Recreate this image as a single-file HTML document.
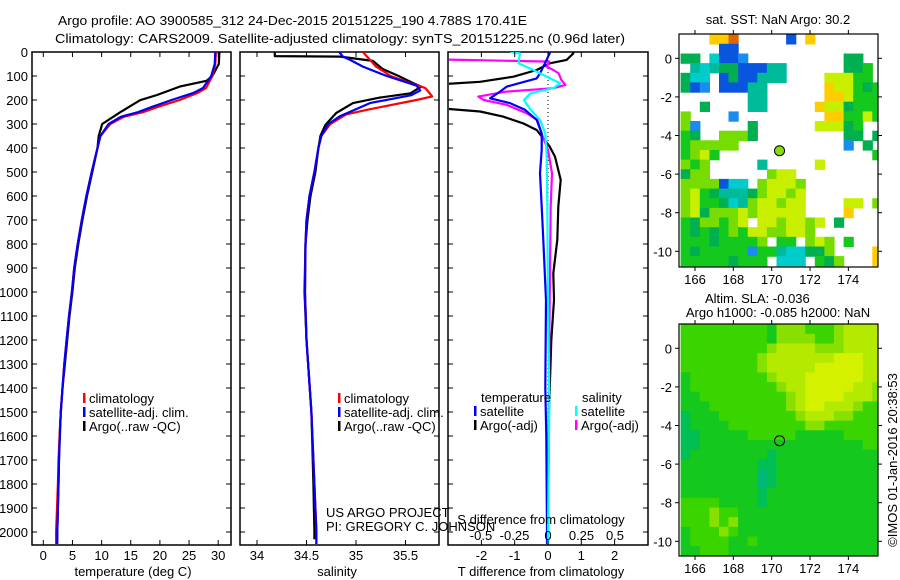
<!DOCTYPE html>
<html><head><meta charset="utf-8"><style>
html,body{margin:0;padding:0;background:#fff;}
svg{display:block;font-family:"Liberation Sans",sans-serif;}
text{font-size:13px;fill:#000;}
</style></head><body>
<svg id="fig" width="900" height="580" viewBox="0 0 900 580" xmlns="http://www.w3.org/2000/svg">
<text x="58" y="25" textLength="469" lengthAdjust="spacingAndGlyphs">Argo profile: AO 3900585_312 24-Dec-2015 20151225_190 4.788S 170.41E</text>
<text x="55" y="43" textLength="570" lengthAdjust="spacingAndGlyphs">Climatology: CARS2009. Satellite-adjusted climatology: synTS_20151225.nc (0.96d later)</text>
<g id="layer"></g>
</svg>
<script>
// ---------- profile data ----------
const tempClimDepth = [0,50,100,150,170,200,230,250,270,300,350,400,500,600,700,800,900,1000,1100,1200,1300,1400,1500,1600,1700,1800,1900,2000,2050];
const tempClim      = [29.6,29.5,29.0,27.9,26.5,23.4,19.5,17.2,13.8,11.5,9.8,9.3,8.3,7.4,6.6,5.9,5.3,4.9,4.4,4.0,3.6,3.3,3.0,2.8,2.6,2.5,2.35,2.2,2.2];
const tempSat       = [29.5,29.4,28.8,27.4,25.8,22.0,18.5,16.3,13.3,11.2,9.8,9.3,8.3,7.4,6.6,5.9,5.3,4.9,4.4,4.0,3.6,3.3,3.0,2.85,2.7,2.6,2.5,2.4,2.4];
const tempArgoDepth = [0,50,100,120,144,179,201,251,300,350,400,500,600,700,800,900,1000,1100,1200,1300,1400,1500,1600,1700,1800,1900,2000,2030];
const tempArgo      = [30.2,30.1,29.0,28.0,23.4,19.5,16.6,13.2,10.1,9.5,9.3,8.4,7.5,6.7,6.0,5.4,5.0,4.5,4.1,3.7,3.3,3.0,2.8,2.7,2.6,2.5,2.4,2.4];

const salClimDepth = [0,60,100,130,150,185,200,241,260,300,350,400,500,600,700,800,1000,1200,1500,1800,2000,2050];
const salClim      = [35.07,35.2,35.35,35.55,35.7,35.77,35.61,35.11,34.9,34.74,34.65,34.62,34.58,34.53,34.5,34.49,34.485,34.5,34.55,34.58,34.6,34.6];
const salSatDepth  = [0,20,33,61,100,140,160,180,213,267,300,350,400,500,600,700,800,1000,1200,1500,1800,2000,2050];
const salSat       = [34.83,34.87,34.94,35.07,35.31,35.61,35.65,35.56,35.14,34.84,34.72,34.65,34.62,34.58,34.53,34.5,34.49,34.485,34.5,34.55,34.58,34.6,34.6];
const salArgoDepth = [0,17,19,37,71,100,130,144,172,190,213,254,304,350,400,500,600,700,800,900,1000,1200,1500,1800,2000,2030];
const salArgo      = [34.18,34.18,34.84,35.17,35.27,35.43,35.58,35.66,35.55,35.24,34.97,34.8,34.69,34.64,34.62,34.59,34.54,34.51,34.49,34.485,34.48,34.5,34.55,34.57,34.58,34.58];

const dTArgoDepth = [0,6,33,47,75,103,124,137,235,248,269,297,325,360,394,436,533,644,783,922,1033,1200,1500,2000,2030];
const dTArgo      = [0.76,0.76,0.56,0.05,-0.34,-1.04,-2.04,-3.5,-3.2,-2.04,-1.35,-0.75,-0.34,-0.14,0.05,0.21,0.38,0.31,0.28,0.16,0.18,0.1,0.03,0.0,0.0];
const dTSatDepth  = [0,6,61,89,110,144,165,193,213,241,283,339,408,505,644,783,1033,1400,1600,2000,2050];
const dTSat       = [0.05,0.05,-0.14,-0.24,-0.34,-1.24,-1.44,-1.74,-1.14,-0.69,-0.34,-0.19,-0.19,-0.24,-0.19,-0.14,-0.06,-0.08,-0.05,-0.03,-0.03];
const dSArgoDepth = [0,30,40,61,75,89,117,137,151,165,186,200,220,255,283,352,408,505,644,922,1200,2000,2030];
const dSArgo      = [-0.89,-0.89,0.01,-0.01,0.04,0.08,0.10,0.13,0.04,-0.31,-0.52,-0.48,-0.31,-0.16,-0.08,-0.04,0.0,0.03,0.02,0.015,0.01,0.0,0.0];
const dSSatDepth  = [0,6,47,75,103,130,151,172,200,241,283,339,436,644,1033,1450,2000,2050];
const dSSat       = [-0.28,-0.21,-0.22,-0.11,-0.01,0.09,0.04,-0.13,-0.18,-0.13,-0.06,-0.02,-0.01,-0.005,0.0,0.01,0.0,0.0];

const depthTicks = [0,100,200,300,400,500,600,700,800,900,1000,1100,1200,1300,1400,1500,1600,1700,1800,1900,2000];
const tempTicks = [0,5,10,15,20,25,30];
const salTicks = [34,34.5,35,35.5];
const salTickLabels = ["34","34.5","35","35.5"];
const dTTicks = [-2,-1,0,1,2];
const dSTicks = [-0.5,-0.25,0,0.25,0.5];
const dSTickLabels = ["-0.5","-0.25","0","0.25","0.5"];

// ---------- map data (0.5° cells, lon 165.25..175.75, lat 1.25..-10.75) ----------
const sstRows = [
"...YYo.....b.Y.......",
"....bb...............",
"GG.cbbm..........GG..",
".tctGGbbbtt......GGg.",
"Gcc.bGbbttt....yyygg.",
"Gbm.bbbtt......YyygGg",
".......tt......YYyggg",
"..G....tt.....YyyGggg",
"l....m.........YYggyg",
"lm.....G......yyyGg..",
"gG..lllG.........GG.G",
"glllll...........m.G.",
"glyg................g",
"lgl.....t.....y......",
"Gll......lyy.........",
"llllbcc.lyyyl........",
"lygGtttGlyyly........",
"lyggGctlyylyy....yy.l",
"lyGlllylyyyyy....Y...",
"gGllgly.yylyyly.G....",
"gGgGglgyyllyyl.......",
"gggGggggl.gg.lyl.g...",
"gGgggggmggtccGGl....Y",
"gggggGggg.ccc.gGl...Y"];
const sstColors = {g:"#14c81e",G:"#00b050",l:"#77dd00",y:"#c8ee00",Y:"#ffcc00",o:"#dd6600",b:"#0a55dd",m:"#1a8cee",c:"#00cccc",t:"#00bb99"};
const slaRows = [
"bbbbbbbbbacccbbbcdddd",
"bbbbbbbbbaccccbbcdddd",
"bbbbbbbbbcddddcccdddd",
"bbbbbbbbcdddddddeeedd",
"bbbbbbbbcdddddeeeeedd",
"abbbbbbbbcdddeeeeeedd",
"abbbbbbbbbcddeeeeeddc",
"aabbbbbbbbbcdeeeedddc",
"aaabbbbbbbbcdeedddcbb",
"faaabbbbbbbbcdddccbbb",
"faaaabbbbbbbbccbbbbbb",
"ffaaaaabbbbbaaaaabbbb",
"ffaaaaaaaaaaaaaaaaabb",
"faaaaaaaafaaaaaaaaaaa",
"aaaaaaaaffaaaaaaaaaaa",
"aaaaaaaahfaaaaaaaaaaa",
"aaaaaaaahfaaaaaaaaaaa",
"aaaaaaaafaaaaaaaaaaaa",
"bbbbaaaafaaaaaaaaaaaa",
"bbbcbbaaaaaaaaaaaaaaa",
"bbbcbcaaaaaaaaaaaaaaa",
"abbbcbaaaaaaaaaaaaaaa",
"abbbbaabaaaaaaaaaaaaa",
"aabbbaaaaaaaaaaaaaaaa"];
const slaColors = {a:"#14c81e",b:"#3ad400",c:"#88e000",d:"#b4ea00",e:"#d4f200",f:"#00bf55",h:"#00b878"};
const lonTicks = [166,168,170,172,174];
const latTicks = [0,-2,-4,-6,-8,-10];
const floatLon = 170.41, floatLat = -4.788;

// ---------- helpers ----------
const NS = "http://www.w3.org/2000/svg";
const layer = document.getElementById("layer");
function mk(tag, attrs, parent){ const e=document.createElementNS(NS,tag); for(const k in attrs) e.setAttribute(k,attrs[k]); (parent||layer).appendChild(e); return e; }
function txt(x,y,s,anchor,parent){ const t=mk("text",{x:x,y:y,"text-anchor":anchor||"start"},parent); t.textContent=s; return t; }

const TOP=52, BOT=545;
const yD = d => TOP + d*0.24;
const xT = t => 43.3 + 5.83*t;
const xS = s => 257 + 99*(s-34);
const xdT = v => 548 + 33.3*v;
const xdS = v => 548 + 134*v;

function panel(name,x0,x1){
  const g=mk("g",{});
  
  
  const r=mk("rect",{x:x0,y:TOP,width:x1-x0,height:BOT-TOP,fill:"none",stroke:"#000","stroke-width":1.5},g);
  
  
  depthTicks.forEach(d=>{
    mk("line",{x1:x0,x2:x0+5,y1:yD(d),y2:yD(d),stroke:"#000"},g);
    mk("line",{x1:x1-5,x2:x1,y1:yD(d),y2:yD(d),stroke:"#000"},g);
  });
  const cp=mk("clipPath",{id:"clip-"+name},g);
  mk("rect",{x:x0+1,y:TOP,width:x1-x0-2,height:BOT-TOP},cp);
  return g;
}
function line(g,clipName,xs,ds,sx,color,name,w){
  const pts=ds.map((d,i)=>sx(xs[i]).toFixed(1)+","+yD(d).toFixed(1)).join(" ");
  const p=mk("polyline",{points:pts,fill:"none",stroke:color,"stroke-width":w||2.2,"stroke-linejoin":"round","clip-path":"url(#clip-"+clipName+")"},g);
  
  
}
function xticks(g,x0,x1,vals,labels,sx,ly){
  vals.forEach((v,i)=>{
    const x=sx(v);
    mk("line",{x1:x,x2:x,y1:BOT,y2:BOT-5,stroke:"#000"},g);
    mk("line",{x1:x,x2:x,y1:TOP,y2:TOP+5,stroke:"#000"},g);
    const t=txt(x,ly,labels[i],"middle",g);
    
    
  });
}
function legendEntry(g,mx,y,color,label){
  const m=mk("rect",{x:mx,y:y-10,width:2.5,height:10,fill:color},g);
  
  
  const t=txt(mx+6,y,label,"start",g);
  
  
}

// depth axis labels
const yAx=mk("g",{});


depthTicks.forEach(d=>{ const t=txt(28,yD(d)+5,String(d),"end",yAx);   });

// Panel 1: temperature
const p1=panel("temperature-panel",32,231);
line(p1,"temperature-panel",tempArgo,tempArgoDepth,xT,"#000","argo-temperature-line");
line(p1,"temperature-panel",tempClim,tempClimDepth,xT,"#f00","climatology-temperature-line");
line(p1,"temperature-panel",tempSat,tempClimDepth,xT,"#00f","satellite-temperature-line");
xticks(p1,32,231,tempTicks,tempTicks.map(String),xT,560);
const t1=txt(133,576,"temperature (deg C)","middle",p1);  
legendEntry(p1,83,403,"#f00","climatology");
legendEntry(p1,83,417,"#00f","satellite-adj. clim.");
legendEntry(p1,83,431,"#000","Argo(..raw -QC)");

// Panel 2: salinity
const p2=panel("salinity-panel",240,439);
line(p2,"salinity-panel",salArgo,salArgoDepth,xS,"#000","argo-salinity-line");
line(p2,"salinity-panel",salClim,salClimDepth,xS,"#f00","climatology-salinity-line");
line(p2,"salinity-panel",salSat,salSatDepth,xS,"#00f","satellite-salinity-line");
xticks(p2,240,439,salTicks,salTickLabels,xS,560);
const t2=txt(337,576,"salinity","middle",p2);  
legendEntry(p2,338,403,"#f00","climatology");
legendEntry(p2,338,417,"#00f","satellite-adj. clim.");
legendEntry(p2,338,431,"#000","Argo(..raw -QC)");
const c1=txt(326,517,"US ARGO PROJECT","start",p2);  
const c2=txt(326,531,"PI: GREGORY C. JOHNSON","start",p2);  

// Panel 3: differences
const p3=panel("difference-panel",448,648);
const zl=mk("line",{x1:xdT(0),x2:xdT(0),y1:TOP,y2:BOT,stroke:"#000","stroke-dasharray":"1,3"},p3);
 
line(p3,"difference-panel",dTArgo,dTArgoDepth,xdT,"#000","argo-t-difference-line");
line(p3,"difference-panel",dSArgo,dSArgoDepth,xdS,"#f0f","argo-s-difference-line");
line(p3,"difference-panel",dTSat,dTSatDepth,xdT,"#00f","satellite-t-difference-line");
line(p3,"difference-panel",dSSat,dSSatDepth,xdS,"#0ff","satellite-s-difference-line");
xticks(p3,448,648,dTTicks,dTTicks.map(String),xdT,560);
dSTicks.forEach((v,i)=>{ const t=txt(xdS(v),540,dSTickLabels[i],"middle",p3);   });
const t3=txt(541,524,"S difference from climatology","middle",p3);  
const t4=txt(541,576,"T difference from climatology","middle",p3);  
const lh1=txt(481,402,"temperature","start",p3);  
const lh2=txt(582,402,"salinity","start",p3);  
legendEntry(p3,474,416,"#00f","satellite");
legendEntry(p3,474,430,"#000","Argo(-adj)");
legendEntry(p3,575,416,"#0ff","satellite");
legendEntry(p3,575,430,"#f0f","Argo(-adj)");

// ---------- maps ----------
const MX0=679, MX1=878;
const mLon = lon => 695 + (lon-166)*19.17;
function mapPanel(name,y0,y1,lat0y,rows,colors,title1,title2){
  const g=mk("g",{});
  
  
  const mLat = lat => lat0y - lat*19.3;
  const cp=mk("clipPath",{id:"clip-"+name},g);
  mk("rect",{x:MX0,y:y0,width:MX1-MX0,height:y1-y0},cp);
  const cg=mk("g",{"clip-path":"url(#clip-"+name+")"},g);
  rows.forEach((row,r)=>{
    for(let c=0;c<row.length;c++){
      const k=row[c]; if(!colors[k]) continue;
      const lonA=165.25+c*0.5, latA=1.25-r*0.5;
      const cell=mk("rect",{x:mLon(lonA).toFixed(1),y:mLat(latA).toFixed(1),width:(0.5*19.17+0.6).toFixed(1),height:(0.5*19.3+0.6).toFixed(1),fill:colors[k]},cg);
      
      
    }
  });
  const fr=mk("rect",{x:MX0,y:y0,width:MX1-MX0,height:y1-y0,fill:"none",stroke:"#000","stroke-width":1.2},g);
  
  
  const dot=mk("circle",{cx:mLon(floatLon),cy:mLat(floatLat),r:5,fill:name==="sst-map"?"#88dd00":"none",stroke:"#000","stroke-width":1},g);
  
  
  lonTicks.forEach(l=>{
    const x=mLon(l);
    mk("line",{x1:x,x2:x,y1:y1,y2:y1+4,stroke:"#000"},g);
    mk("line",{x1:x,x2:x,y1:y0,y2:y0-4,stroke:"#000"},g);
    const t=txt(x,y1+17,String(l),"middle",g);
    
    
  });
  latTicks.forEach(l=>{
    const y=mLat(l);
    mk("line",{x1:MX0-4,x2:MX0,y1:y,y2:y,stroke:"#000"},g);
    mk("line",{x1:MX1,x2:MX1+4,y1:y,y2:y,stroke:"#000"},g);
    const t=txt(672,y+5,String(l),"end",g);
    
    
  });
  const tt=txt(778, title2? y0-21 : y0-10, title1, title2?"start":"middle", g);
  if(title2){ tt.setAttribute("x",705); }
  
  
  if(title2){
    const t2=txt(778,y0-7,title2,"middle",g);
    
    
  }
}
mapPanel("sst-map",34,267,58.3,sstRows,sstColors,"sat. SST: NaN Argo: 30.2",null);
mapPanel("sla-map",324,556,348.3,slaRows,slaColors,"Altim. SLA: -0.036","Argo h1000: -0.085 h2000: NaN");

const cr=txt(0,0,"©IMOS 01-Jan-2016 20:38:53","middle");
cr.setAttribute("transform","translate(897,460) rotate(-90)");


</script>
</body></html>
